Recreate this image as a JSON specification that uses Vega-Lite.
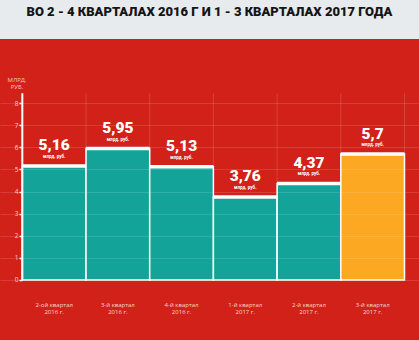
{
  "$schema": "https://vega.github.io/schema/vega-lite/v6.json",
  "padding": 0,
  "background": "#d22118",
  "spacing": 0,
  "config": {
    "view": {"stroke": null},
    "locale": {"number": {"decimal": ",", "thousands": " ", "grouping": [3], "currency": ["", ""]}}
  },
  "vconcat": [
    {
      "width": 419,
      "height": 39,
      "view": {"fill": "#e8ebee", "stroke": null},
      "data": {"values": [{"t": "ВО 2 - 4 КВАРТАЛАХ 2016 Г И 1 - 3 КВАРТАЛАХ 2017 ГОДА"}]},
      "mark": {"type": "text", "font": "Roboto", "fontSize": 13, "fontWeight": 900, "color": "#151515", "baseline": "middle", "dy": -7.5},
      "encoding": {"text": {"field": "t"}}
    },
    {
      "width": 419,
      "height": 301,
      "data": {"values": [
        {"q": "2-ой квартал 2016 г.", "v": 5.16},
        {"q": "3-й квартал 2016 г.", "v": 5.95},
        {"q": "4-й квартал 2016 г.", "v": 5.13},
        {"q": "1-й квартал 2017 г.", "v": 3.76},
        {"q": "2-й квартал 2017 г.", "v": 4.37},
        {"q": "3-й квартал 2017 г.", "v": 5.7}
      ]},
      "layer": [
        {
          "mark": {"type": "bar", "stroke": "white", "strokeWidth": 1.5},
          "encoding": {
            "x": {"field": "q", "type": "nominal", "sort": null,
              "scale": {"type": "band", "paddingInner": 0, "paddingOuter": 0.289, "align": 0.606},
              "axis": {"title": null, "orient": "bottom", "offset": -60, "domain": false, "ticks": false, "tickSize": 0,
                "labelAngle": 0, "labelPadding": 21, "labelBaseline": "top", "labelFont": "Open Sans", "labelFontSize": 6,
                "labelLineHeight": 7, "labelColor": "#f8d6d2", "grid": false,
                "labelExpr": "[substring(datum.label, 0, indexof(datum.label, ' 20')), substring(datum.label, indexof(datum.label, ' 20') + 1)]"}},
            "y": {"field": "v", "type": "quantitative",
              "scale": {"domain": [-2.715, 10.905], "nice": false, "zero": false},
              "axis": {"title": ["МЛРД.", "РУБ."], "titleAngle": 0, "titleX": -5.5, "titleY": 37.5, "titleAlign": "center",
                "titleBaseline": "top", "titleFont": "Open Sans", "titleFontSize": 6, "titleFontWeight": "normal", "titleColor": "#f4c6c2",
                "titleLineHeight": 7, "values": [0, 1, 2, 3, 4, 5, 6, 7, 8], "tickCount": 9, "labelOverlap": false, "format": "d", "offset": -22, "domain": false,
                "tickSize": 3, "tickColor": "white", "tickWidth": 1.5, "labelPadding": 1, "labelFont": "Open Sans", "labelFontSize": 6.5,
                "labelColor": "#f6d0cc", "grid": true, "gridColor": "white", "gridOpacity": 0.13, "zindex": 1}},
            "y2": {"datum": 0},
            "color": {"condition": {"test": "datum.q === '3-й квартал 2017 г.'", "value": "#fda822"}, "value": "#13a398"}
          }
        },
        {
          "mark": {"type": "bar", "stroke": "white", "strokeWidth": 3.5, "fill": "white"},
          "encoding": {
            "x": {"field": "q", "type": "nominal", "sort": null},
            "y": {"field": "v", "type": "quantitative"},
            "y2": {"field": "v"}
          }
        },
        {
          "mark": {"type": "rule"},
          "encoding": {
            "x": {"field": "q", "type": "nominal", "sort": null, "bandPosition": 0},
            "y": {"datum": 0},
            "y2": {"datum": 8.45},
            "color": {"condition": {"test": "datum.q === '2-ой квартал 2016 г.'", "value": "white"}, "value": "rgba(255,255,255,0.15)"},
            "strokeWidth": {"condition": {"test": "datum.q === '2-ой квартал 2016 г.'", "value": 2}, "value": 1}
          }
        },
        {
          "transform": [{"filter": "datum.q === '3-й квартал 2017 г.'"}],
          "mark": {"type": "rule", "color": "rgba(255,255,255,0.15)"},
          "encoding": {
            "x": {"field": "q", "type": "nominal", "sort": null, "bandPosition": 1},
            "y": {"datum": 0},
            "y2": {"datum": 8.45}
          }
        },
        {
          "mark": {"type": "text", "font": "Roboto", "fontSize": 15.5, "fontWeight": 900, "color": "white", "baseline": "bottom", "dy": -12.5},
          "encoding": {
            "x": {"field": "q", "type": "nominal", "sort": null},
            "y": {"field": "v", "type": "quantitative"},
            "text": {"field": "v", "format": ".2~f"}
          }
        },
        {
          "mark": {"type": "text", "font": "Roboto", "fontSize": 4.5, "fontWeight": "bold", "color": "white", "baseline": "top", "dy": -12, "text": "млрд. руб."},
          "encoding": {
            "x": {"field": "q", "type": "nominal", "sort": null},
            "y": {"field": "v", "type": "quantitative"}
          }
        }
      ]
    }
  ]
}
